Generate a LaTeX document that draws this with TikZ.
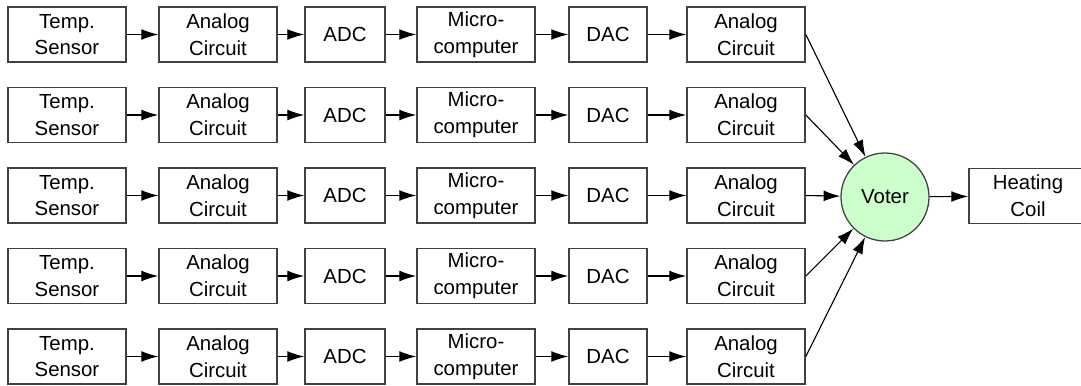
\documentclass[tikz,border=0pt]{standalone}
\usepackage{fontspec}
\setmainfont{Liberation Sans}
\usetikzlibrary{arrows.meta}
\definecolor{votergreen}{HTML}{CCFFCC}
\definecolor{boxgray}{HTML}{404040}

\begin{document}
\begin{tikzpicture}[
  blk/.style={shape=rectangle, draw=boxgray, line width=1.2pt, minimum height=1.375cm, align=center, inner sep=0pt, font=\fontsize{14.5}{19}\selectfont},
  wide/.style={blk, minimum width=2.95cm},
  narrow/.style={blk, minimum width=2cm},
  conn/.style={-{Latex[length=4.2mm,width=2.7mm]}, line width=0.8pt, draw=black}]
\useasboundingbox (0,0) rectangle (27.025,-9.65);
% five identical channels
\foreach \r in {1,...,5} {
  \pgfmathsetmacro{\y}{-0.8625-2.0125*(\r-1)}
  \node[wide] (sen\r) at (1.675,\y) {Temp.\\Sensor};
  \node[wide] (ain\r) at (5.45,\y) {Analog\\Circuit};
  \node[narrow] (adc\r) at (8.625,\y) {ADC};
  \node[wide] (mcu\r) at (11.9,\y) {Micro-\\computer};
  \node[narrow, minimum width=1.95cm] (dac\r) at (15.2,\y) {DAC};
  \node[wide] (aout\r) at (18.65,\y) {Analog\\Circuit};
  \path (sen\r) edge[conn] (ain\r);
  \path (ain\r) edge[conn] (adc\r);
  \path (adc\r) edge[conn] (mcu\r);
  \path (mcu\r) edge[conn] (dac\r);
  \path (dac\r) edge[conn] (aout\r);
}
\node[shape=circle, draw=boxgray, line width=0.9pt, fill=votergreen, minimum size=2.2cm, inner sep=0pt, font=\fontsize{14.5}{19}\selectfont] (voter) at (22.125,-4.925) {Voter};
\node[wide] (coil) at (25.7,-4.9) {Heating\\Coil};
% voting
\foreach \r in {1,...,5}
  \path (aout\r.east) edge[conn] (voter);
\path (voter) edge[conn] (coil);
\end{tikzpicture}
\end{document}
